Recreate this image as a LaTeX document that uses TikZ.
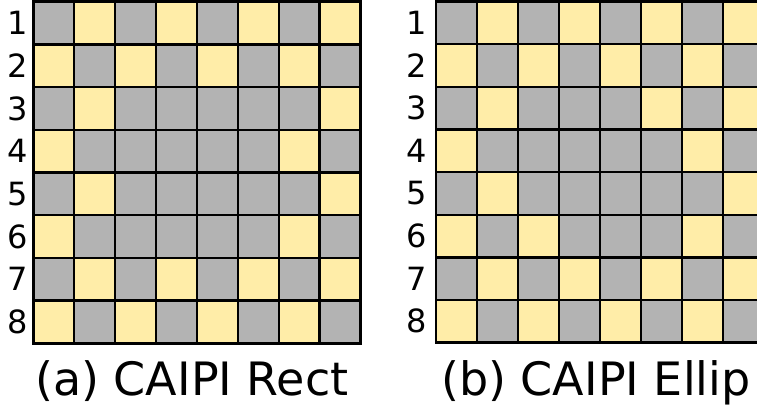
\documentclass[tikz,border=0pt]{standalone}
\usepackage{fontspec}
\setmainfont{DejaVu Sans}
\definecolor{cell0}{HTML}{B3B3B3}
\definecolor{cell1}{HTML}{FFEDA8}
\tikzset{
  cellbox/.style={draw=black, line width=2.4pt},
  rowlabel/.style={inner sep=0pt, font=\fontsize{32}{38}\selectfont},
  caption/.style={inner sep=0pt, anchor=base west, font=\fontsize{46}{54}\selectfont}
}
\begin{document}
\begin{tikzpicture}[x=1pt,y=1pt]
\useasboundingbox (0,0) rectangle (757,-409);
\clip (0,0) rectangle (757,-409);
% left grid
\foreach \row [count=\r] in {{0,1,0,1,0,1,0,1},{1,0,1,0,1,0,1,0},{0,1,0,0,0,0,0,1},{1,0,0,0,0,0,1,0},{0,1,0,0,0,0,0,1},{1,0,0,0,0,0,1,0},{0,1,0,1,0,1,0,1},{1,0,1,0,1,0,1,0}}{
  \foreach \v [count=\c] in \row {
    \filldraw[cellbox, fill=cell\v] ({33.3+(\c-1)*40.9},{-1.7-(\r-1)*42.7}) rectangle ++(40.9,-42.7);
  }
  \node[rowlabel] (la\r) at (17.5,{-1.7-(\r-0.5)*42.7}) {\r};
}
% right grid
\foreach \row [count=\r] in {{0,1,0,1,0,1,0,1},{1,0,1,0,1,0,1,0},{0,1,0,0,0,1,0,1},{1,0,0,0,0,0,1,0},{0,1,0,0,0,0,0,1},{1,0,1,0,0,0,1,0},{0,1,0,1,0,1,0,1},{1,0,1,0,1,0,1,0}}{
  \foreach \v [count=\c] in \row {
    \filldraw[cellbox, fill=cell\v] ({436+(\c-1)*41},{-1.7-(\r-1)*42.6}) rectangle ++(41,-42.6);
  }
  \node[rowlabel] (lb\r) at (416.5,{-1.7-(\r-0.5)*42.6}) {\r};
}
\node[caption] (capa) at (35,-395) {(a) CAIPI Rect};
\node[caption] (capb) at (441,-395) {(b) CAIPI Ellip};
\end{tikzpicture}
\end{document}
